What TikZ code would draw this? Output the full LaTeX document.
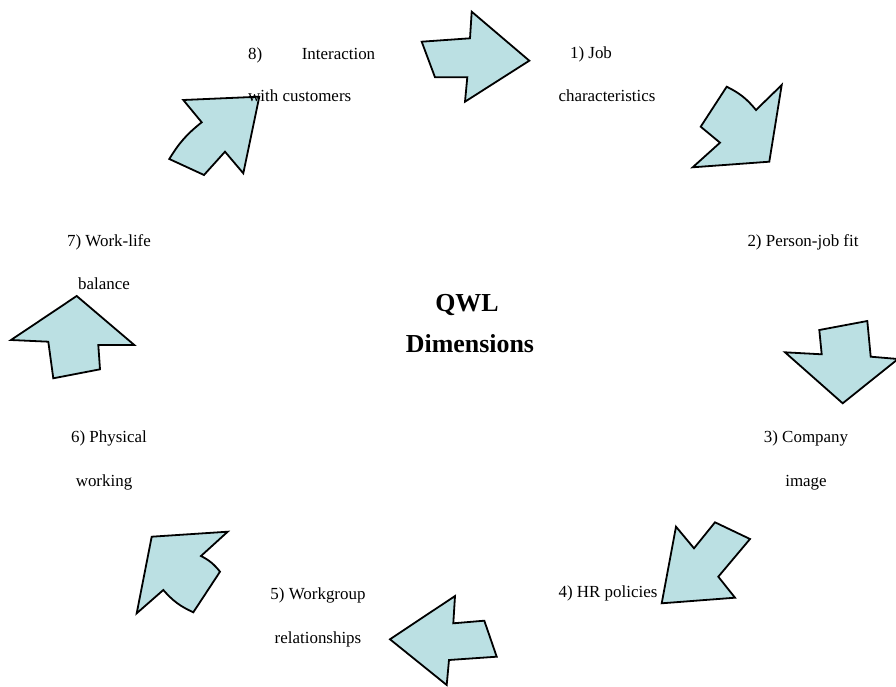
\documentclass[tikz,border=0pt]{standalone}
\usepackage{fontspec}
\setmainfont{Liberation Serif}
\definecolor{arrowfill}{RGB}{187,224,227}
\begin{document}
\begin{tikzpicture}[x=1bp,y=-1bp,
  blockarrow/.style={draw=black,line width=1.8bp,fill=arrowfill,line join=miter},
  lbl/.style={anchor=base,inner sep=0pt,font=\fontsize{17}{20}\selectfont},
  ttl/.style={anchor=base,inner sep=0pt,font=\fontsize{26}{30}\selectfont\bfseries}]
\useasboundingbox (0,0) rectangle (896,687);
% arrows
\draw[blockarrow] (421.7,41.7) -- (470,38.3) -- (471.7,11.7) -- (529.3,60.7) -- (465,101.7) -- (467.3,77.3) -- (435,77.3) -- cycle;
\draw[blockarrow] (726.7,86.7) to[bend left=12] (756,110) -- (781.7,85) -- (769.3,161.7) -- (692.7,167.3) -- (720,142.7) -- (700.7,126.7) -- cycle;
\draw[blockarrow] (819.3,330) -- (867.3,321) -- (870.7,356.7) -- (898,359) -- (842.7,403.3) -- (785,352.3) -- (821.7,354.3) -- cycle;
\draw[blockarrow] (676,526.7) -- (694,548.3) -- (715,522.3) -- (750,539) -- (718.3,576.7) -- (735,597.7) -- (661.7,603.3) -- cycle;
\draw[blockarrow] (390,639.3) -- (455,596) -- (453.3,623.3) -- (484.3,620.7) -- (496.7,656.7) -- (449,660) -- (446.7,685) -- cycle;
\draw[blockarrow] (151.7,536.7) -- (227.7,531.7) -- (201,556) to[bend left=12] (220,571.7) -- (193.3,612.3) to[bend left=12] (163.3,590) -- (136.7,613.3) -- cycle;
\draw[blockarrow] (76.7,296) -- (134.3,345) -- (98.3,345) -- (100,369.3) -- (53.3,378.3) -- (48.3,341.7) -- (11,340) -- cycle;
\draw[blockarrow] (183.3,100) -- (259.3,96.7) -- (243.3,173.3) -- (225,151.7) -- (204,175) -- (169.3,159) to[bend left=10] (201.7,122.3) -- cycle;
% labels
\node[lbl,anchor=base west,text width=127bp,align=left] (l8) at (248,59.3) {8)\hfill Interaction};
\node[lbl,anchor=base west] (l8b) at (248,101.7) {with customers};
\node[lbl] (l1a) at (591,59) {1) Job};
\node[lbl] (l1b) at (607,102) {characteristics};
\node[lbl] (l2) at (803,246) {2) Person-job fit};
\node[lbl] (l3a) at (806,442) {3) Company};
\node[lbl] (l3b) at (806,486) {image};
\node[lbl] (l4) at (608,597) {4) HR policies};
\node[lbl] (l5a) at (318,599) {5) Workgroup};
\node[lbl] (l5b) at (318,643) {relationships};
\node[lbl] (l6a) at (109,442) {6) Physical};
\node[lbl] (l6b) at (104,486) {working};
\node[lbl] (l7a) at (109,246) {7) Work-life};
\node[lbl] (l7b) at (104,289) {balance};
\node[ttl] (t1) at (467,311) {QWL};
\node[ttl] (t2) at (470,352) {Dimensions};
\end{tikzpicture}
\end{document}
